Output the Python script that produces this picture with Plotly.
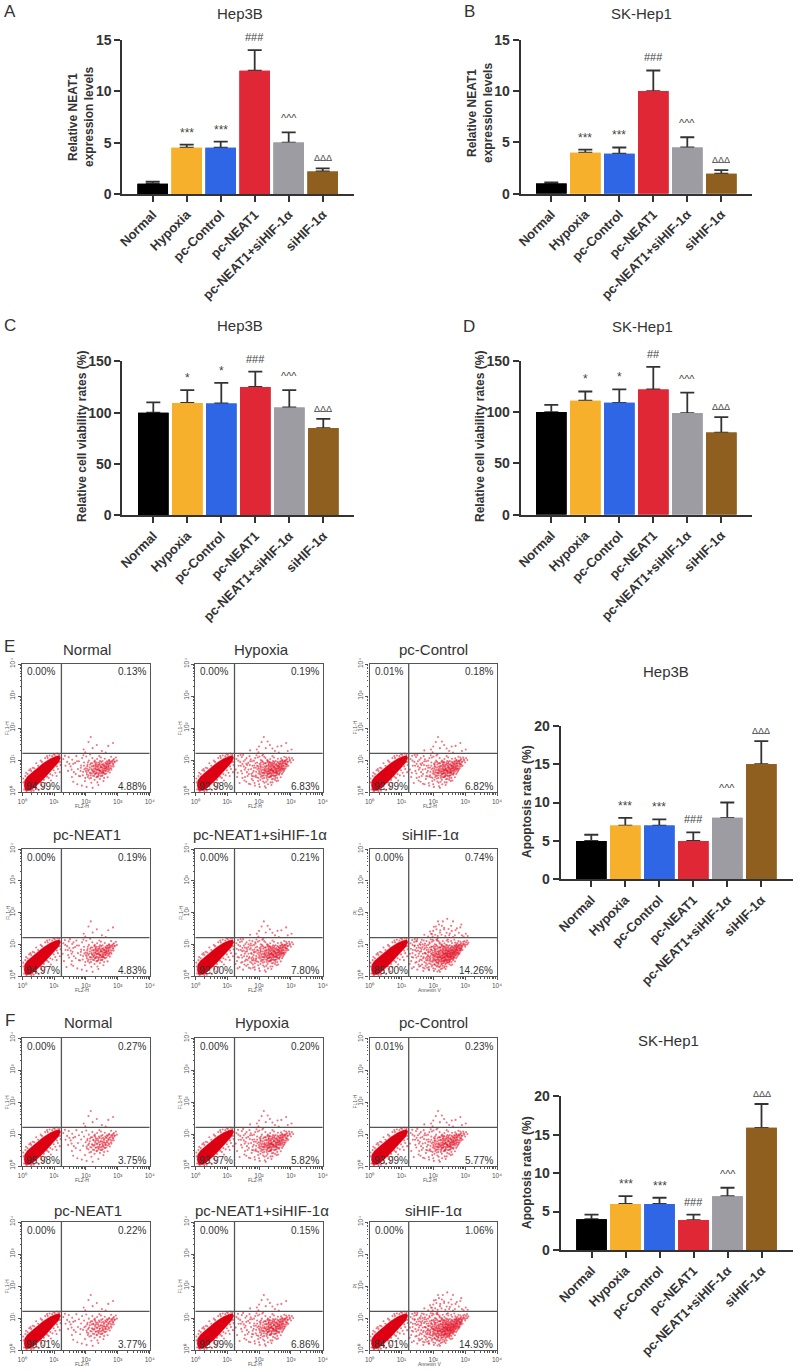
import plotly.graph_objects as go
import numpy as np

W, H = 800, 1371
FONT = "Liberation Sans"
INK = "#333333"

CATEGORIES = ["Normal", "Hypoxia", "pc-Control", "pc-NEAT1", "pc-NEAT1+siHIF-1α", "siHIF-1α"]
BAR_COLORS = ["#000000", "#F7B02C", "#2F66E5", "#E02735", "#9D9CA2", "#8F5F1F"]

A_MEAN = [1, 4.5, 4.5, 12, 5, 2.2]
A_TOP = [1.2, 4.8, 5.1, 14, 6, 2.5]
B_MEAN = [1, 4, 3.9, 10, 4.5, 1.95]
B_TOP = [1.1, 4.3, 4.5, 12, 5.5, 2.3]
C_MEAN = [100, 109.5, 109, 125, 105, 85]
C_TOP = [110, 122, 129, 140, 122, 94]
D_MEAN = [100, 111, 109, 122, 99, 80]
D_TOP = [107, 120, 122, 144, 119, 95]
E_MEAN = [5, 7, 7, 5, 8, 15]
E_TOP = [5.8, 8, 7.8, 6.1, 10, 18]
F_MEAN = [4, 6, 6, 3.9, 7, 15.9]
F_TOP = [4.6, 7, 6.8, 4.6, 8.1, 19]

MARKS_3 = ["", "***", "***", "###", "^^^", "ΔΔΔ"]
MARKS_C = ["", "*", "*", "###", "^^^", "ΔΔΔ"]
MARKS_D = ["", "*", "*", "##", "^^^", "ΔΔΔ"]

# Flow cytometry: quadrant percentages (UL, UR, LL, LR)
E_PCT = [("0.00%", "0.13%", "94.99%", "4.88%"), ("0.00%", "0.19%", "92.98%", "6.83%"),
         ("0.01%", "0.18%", "92.99%", "6.82%"), ("0.00%", "0.19%", "94.97%", "4.83%"),
         ("0.00%", "0.21%", "92.00%", "7.80%"), ("0.00%", "0.74%", "85.00%", "14.26%")]
F_PCT = [("0.00%", "0.27%", "95.98%", "3.75%"), ("0.00%", "0.20%", "93.97%", "5.82%"),
         ("0.01%", "0.23%", "93.99%", "5.77%"), ("0.00%", "0.22%", "96.01%", "3.77%"),
         ("0.00%", "0.15%", "92.99%", "6.86%"), ("0.00%", "1.06%", "84.01%", "14.93%")]

GATE_X = 1.23
GATE_Y = 1.21

# Dense live-cell population outline, read in log10 units
BLOB = [(0.1, 0.05), (0.06, 0.2), (0.08, 0.36), (0.16, 0.48), (0.3, 0.6), (0.46, 0.74), (0.66, 0.9),
        (0.88, 1.04), (1.06, 1.12), (1.17, 1.14), (1.2, 1.06), (1.14, 0.92), (1.0, 0.76), (0.86, 0.6),
        (0.7, 0.44), (0.54, 0.28), (0.38, 0.14), (0.24, 0.05)]
FUZZ = [(0.03, 0.42), (0.12, 0.6), (0.22, 0.68), (0.33, 0.76), (0.44, 0.9), (0.58, 0.98), (0.72, 1.06),
        (0.86, 1.14), (0.98, 1.19), (0.46, 0.1), (0.6, 0.22), (0.72, 0.28), (0.83, 0.44), (0.95, 0.52),
        (1.04, 0.6), (1.12, 0.72), (1.2, 0.84), (1.18, 0.62), (0.66, 0.14), (0.36, 0.04), (0.9, 0.36),
        (1.08, 0.5), (0.52, 0.06), (0.26, 0.72), (0.78, 1.12), (1.1, 1.2), (0.04, 0.3), (0.06, 0.08),
        (0.1, 0.5), (0.17, 0.56), (0.28, 0.66), (0.38, 0.74), (0.5, 0.82), (0.62, 0.94), (0.8, 1.06),
        (0.94, 1.12), (0.32, 0.08), (0.44, 0.18), (0.58, 0.3), (0.68, 0.38), (0.78, 0.48), (0.88, 0.56),
        (0.99, 0.68), (1.09, 0.8), (1.18, 0.94), (0.14, 0.02), (0.28, 0.03), (1.16, 1.18), (1.02, 1.16)]

# Scattered apoptotic events, read by eye in log10 units
CLOUD_A = [(2.15, 1.72), (2.08, 1.56), (2.34, 1.47), (2.7, 1.44), (2.85, 1.53), (1.93, 1.33), (2.21, 1.37),
           (1.98, 1.24), (2.5, 1.28), (2.62, 1.23), (1.29, 1.03), (1.34, 1.13), (1.41, 0.94), (1.46, 1.09),
           (1.52, 0.8), (1.57, 1.01), (1.62, 0.62), (1.66, 0.91), (1.7, 1.12), (1.75, 0.72), (1.78, 0.96),
           (1.82, 0.49), (1.85, 0.83), (1.88, 1.06), (1.91, 0.63), (1.94, 0.92), (1.97, 0.34), (1.99, 0.74),
           (2.01, 1.11), (2.03, 0.55), (2.05, 0.85), (2.07, 0.66), (2.09, 0.98), (2.11, 0.42), (2.12, 0.77),
           (2.14, 0.59), (2.16, 0.9), (2.17, 0.29), (2.19, 0.68), (2.2, 1.06), (2.22, 0.51), (2.23, 0.82),
           (2.25, 0.63), (2.26, 0.95), (2.27, 0.38), (2.29, 0.73), (2.3, 0.57), (2.31, 0.87), (2.33, 0.46),
           (2.34, 0.69), (2.35, 1.03), (2.37, 0.6), (2.38, 0.8), (2.39, 0.22), (2.4, 0.52), (2.41, 0.92),
           (2.43, 0.66), (2.44, 0.41), (2.45, 0.76), (2.46, 0.58), (2.47, 1.08), (2.49, 0.86), (2.5, 0.5),
           (2.51, 0.7), (2.52, 0.97), (2.54, 0.62), (2.55, 0.34), (2.56, 0.81), (2.58, 0.73), (2.59, 1.04),
           (2.6, 0.56), (2.62, 0.89), (2.63, 0.66), (2.65, 0.78), (2.66, 0.96), (2.68, 0.46), (2.7, 0.84),
           (2.71, 0.71), (2.73, 1.0), (2.75, 0.61), (2.77, 0.9), (2.79, 1.1), (2.81, 0.8), (2.83, 0.97),
           (2.86, 0.88), (2.88, 1.03), (2.91, 0.95), (2.94, 1.08), (2.97, 0.98), (1.44, 0.66), (1.6, 0.32),
           (1.73, 0.24), (1.87, 0.2), (2.02, 0.16), (2.21, 0.13), (1.36, 0.82), (1.56, 0.47), (2.28, 0.98),
           (2.42, 1.12), (2.57, 0.44), (2.36, 0.3), (2.18, 0.8), (2.06, 0.47), (1.95, 0.71), (1.83, 0.66),
           (1.92, 1.15), (2.13, 1.17), (2.32, 0.62), (2.48, 0.64), (2.61, 0.75), (2.67, 0.88), (2.74, 0.74),
           (2.53, 0.84), (2.44, 0.97), (2.24, 0.72), (2.15, 0.52), (2.04, 0.72), (2.38, 0.48), (2.52, 0.6),
           (2.29, 0.84), (2.41, 0.68), (2.35, 0.78), (2.46, 0.82), (2.56, 0.68), (2.64, 0.83), (2.72, 0.9)]

CLOUD_B = [(1.27, 0.7), (1.31, 0.47), (1.35, 0.98), (1.39, 0.28), (1.43, 0.82), (1.47, 0.58), (1.5, 1.16),
           (1.54, 0.36), (1.58, 0.76), (1.61, 1.06), (1.64, 0.5), (1.68, 0.26), (1.71, 0.84), (1.74, 1.02),
           (1.77, 0.41), (1.8, 0.6), (1.84, 0.98), (1.86, 0.28), (1.9, 0.76), (1.93, 0.46), (1.96, 1.08),
           (2.0, 0.24), (2.02, 0.88), (2.04, 0.38), (2.08, 0.6), (2.1, 1.14), (2.13, 0.33), (2.15, 0.68),
           (2.18, 0.18), (2.21, 0.9), (2.24, 0.44), (2.26, 0.56), (2.28, 0.24), (2.31, 0.66), (2.33, 0.94),
           (2.36, 0.5), (2.39, 0.72), (2.42, 0.3), (2.45, 0.62), (2.47, 0.9), (2.5, 0.38), (2.53, 0.72),
           (2.55, 0.52), (2.58, 0.94), (2.6, 0.36), (2.63, 0.54), (2.66, 0.68), (2.69, 1.05), (2.72, 0.56),
           (2.75, 0.82), (2.78, 0.66), (2.8, 0.98), (2.83, 0.74), (2.85, 1.08), (2.88, 0.86), (2.92, 0.82),
           (2.96, 1.02), (3.0, 0.92), (3.03, 1.06), (3.07, 1.0), (1.72, 1.3), (2.0, 1.42), (2.27, 1.58),
           (2.42, 1.36), (2.58, 1.42), (2.9, 1.28), (3.02, 1.33), (1.52, 0.96), (1.67, 0.7), (1.79, 0.82),
           (1.88, 0.48), (1.98, 0.58), (2.06, 0.78), (2.11, 0.5), (2.17, 0.62), (2.23, 0.32), (2.3, 0.46),
           (2.34, 0.58), (2.37, 0.66), (2.4, 0.4), (2.44, 0.52), (2.48, 0.72), (2.51, 0.44), (2.57, 0.62),
           (2.61, 0.82), (2.65, 0.6), (2.7, 0.74), (2.76, 0.72), (2.82, 0.88), (2.12, 0.94), (2.2, 0.76),
           (1.33, 0.6), (1.42, 1.16), (1.48, 0.44), (1.63, 0.84), (1.76, 0.56), (1.81, 0.36), (1.89, 0.9),
           (1.97, 0.8), (2.05, 1.0), (2.16, 1.1), (2.25, 1.0), (2.37, 0.9), (2.43, 0.8), (2.54, 1.02)]

CLOUD_C = [(1.26, 0.38), (1.3, 0.86), (1.33, 0.24), (1.37, 0.58), (1.4, 1.07), (1.44, 0.42), (1.47, 0.78),
           (1.5, 0.2), (1.53, 0.62), (1.55, 0.9), (1.59, 0.52), (1.62, 0.78), (1.65, 0.36), (1.67, 1.0),
           (1.7, 0.6), (1.72, 0.44), (1.74, 0.88), (1.77, 0.7), (1.79, 1.1), (1.81, 0.26), (1.83, 0.54),
           (1.85, 0.74), (1.87, 0.4), (1.89, 1.02), (1.91, 0.56), (1.93, 0.84), (1.95, 0.3), (1.97, 0.66),
           (1.99, 0.48), (2.01, 0.94), (2.03, 0.36), (2.05, 0.62), (2.06, 0.22), (2.08, 0.84), (2.1, 0.44),
           (2.12, 0.66), (2.13, 0.14), (2.15, 0.4), (2.16, 0.76), (2.18, 0.5), (2.2, 0.28), (2.21, 0.6),
           (2.23, 0.9), (2.25, 0.38), (2.27, 0.54), (2.28, 0.78), (2.3, 0.32), (2.32, 0.5), (2.33, 0.72),
           (2.35, 0.42), (2.36, 0.6), (2.38, 0.36), (2.4, 0.8), (2.41, 0.5), (2.43, 0.62), (2.45, 0.44),
           (2.46, 0.7), (2.48, 0.54), (2.5, 0.8), (2.52, 0.48), (2.54, 0.7), (2.56, 0.9), (2.59, 0.62),
           (2.62, 0.5), (2.64, 0.72), (2.67, 0.58), (2.69, 0.82), (2.71, 0.94), (2.74, 0.82), (2.77, 0.76),
           (2.8, 0.86), (2.84, 0.8), (2.87, 0.96), (2.9, 0.9), (2.93, 1.0), (2.98, 1.1), (3.02, 0.98),
           (3.06, 1.12), (3.1, 1.05), (1.84, 1.24), (1.9, 1.4), (1.96, 1.32), (2.02, 1.55), (2.06, 1.3),
           (2.1, 1.47), (2.14, 1.26), (2.18, 1.62), (2.22, 1.44), (2.26, 1.3), (2.3, 1.72), (2.34, 1.52),
           (2.38, 1.26), (2.44, 1.8), (2.48, 1.48), (2.52, 1.34), (2.56, 1.58), (2.62, 1.72), (2.68, 1.28),
           (2.74, 1.5), (2.8, 1.36), (2.88, 1.62), (2.95, 1.24), (3.08, 1.26), (1.35, 0.72), (1.42, 0.96),
           (1.49, 1.1), (1.56, 0.3), (1.6, 0.98), (1.64, 1.14), (1.69, 0.16), (1.73, 0.72), (1.76, 0.32),
           (1.8, 0.9), (1.84, 0.62), (1.86, 0.2), (1.88, 0.6), (1.92, 0.38), (1.94, 0.7), (1.96, 0.92),
           (2.0, 0.52), (2.02, 0.66), (2.04, 0.5), (2.07, 0.34), (2.09, 0.72), (2.11, 0.3), (2.14, 0.56),
           (2.17, 0.38), (2.19, 0.46), (2.22, 0.58), (2.24, 0.22), (2.26, 0.46), (2.29, 0.64), (2.31, 0.4),
           (2.34, 0.26), (2.37, 0.54), (2.39, 0.64), (2.42, 0.46), (2.44, 0.72), (2.47, 0.6), (2.49, 0.44),
           (2.51, 0.66), (2.53, 0.56), (2.55, 0.78), (2.58, 0.54), (2.6, 0.7), (2.63, 0.62), (2.66, 0.76),
           (2.7, 0.66), (2.73, 0.86), (2.78, 0.92), (2.82, 0.7), (2.86, 0.84), (2.4, 0.98), (2.3, 1.1),
           (2.2, 1.02), (2.12, 1.12), (2.56, 1.1), (2.66, 1.14), (2.76, 1.04), (1.98, 1.14), (2.46, 1.15)]

CLOUD_D = [(2.02, 0.61), (2.04, 0.8), (2.08, 0.52), (2.1, 0.7), (2.13, 0.86), (2.16, 0.44), (2.18, 0.58),
           (2.2, 0.9), (2.21, 0.66), (2.24, 0.8), (2.26, 0.5), (2.27, 0.66), (2.29, 0.92), (2.3, 0.78),
           (2.32, 0.58), (2.33, 0.82), (2.35, 0.48), (2.36, 0.7), (2.37, 0.86), (2.39, 0.56), (2.4, 0.74),
           (2.42, 0.6), (2.43, 0.88), (2.44, 0.68), (2.46, 0.5), (2.47, 0.78), (2.48, 0.94), (2.5, 0.6),
           (2.51, 0.76), (2.52, 0.52), (2.53, 0.66), (2.54, 0.88), (2.56, 0.74), (2.57, 0.58), (2.58, 0.84),
           (2.6, 0.66), (2.61, 0.92), (2.62, 0.72), (2.64, 0.58), (2.65, 0.88), (2.66, 0.74), (2.68, 0.94),
           (2.69, 0.64), (2.7, 0.8), (2.72, 0.98), (2.73, 0.68), (2.74, 0.88), (2.76, 0.82), (2.78, 0.74),
           (2.79, 0.96), (2.8, 0.7), (2.82, 0.92), (2.84, 0.86), (2.85, 1.0), (2.87, 0.8), (2.89, 0.94),
           (1.48, 0.88), (1.55, 0.7), (1.6, 0.88), (1.68, 0.56), (1.72, 0.96), (1.78, 0.5), (1.84, 0.76),
           (1.9, 0.52), (1.94, 0.82), (1.98, 0.44), (2.0, 0.66), (2.06, 0.92), (2.12, 0.6), (2.17, 0.72),
           (2.23, 0.6), (2.28, 0.56), (2.31, 0.72), (2.34, 0.92), (2.38, 0.7), (2.41, 0.84), (2.45, 0.66),
           (2.49, 0.78), (2.55, 0.6), (2.59, 0.8), (2.63, 0.78), (2.67, 0.7), (2.71, 0.78), (2.75, 0.94)]

# Which hand-read events appear in which flow panel (A, B, C, D counts)
E_CLOUDS = [(130, 0, 0, 84), (130, 104, 0, 84), (130, 95, 0, 84), (130, 10, 0, 84), (130, 104, 25, 84), (130, 104, 174, 84)]
F_CLOUDS = [(100, 0, 0, 60), (130, 80, 0, 84), (130, 75, 0, 84), (105, 0, 0, 60), (130, 65, 0, 84), (130, 104, 174, 84)]

# Pixel placement of each chart panel
BAR_PANELS = [
    dict(mean=A_MEAN, top=A_TOP, marks=MARKS_3, ymax=15, dtick=5, ax=122.3, end=353.5, c0=152.7, ytop=39.8, ybot=194,
         ylabel="Relative NEAT1<br>expression levels", lx=81, ly=117, title="Hep3B", tx=240, ty=13),
    dict(mean=B_MEAN, top=B_TOP, marks=MARKS_3, ymax=15, dtick=5, ax=520.7, end=752.3, c0=551.3, ytop=39.7, ybot=193.7,
         ylabel="Relative NEAT1<br>expression levels", lx=480, ly=113, title="SK-Hep1", tx=641, ty=13),
    dict(mean=C_MEAN, top=C_TOP, marks=MARKS_C, ymax=150, dtick=50, ax=122.3, end=354, c0=153.3, ytop=361.3, ybot=515.3,
         ylabel="Relative cell viability rates (%)", lx=82, ly=437, title="Hep3B", tx=240, ty=325),
    dict(mean=D_MEAN, top=D_TOP, marks=MARKS_D, ymax=150, dtick=50, ax=520.7, end=752, c0=551.3, ytop=360.7, ybot=514.7,
         ylabel="Relative cell viability rates (%)", lx=480, ly=437, title="SK-Hep1", tx=642, ty=326),
    dict(mean=E_MEAN, top=E_TOP, marks=MARKS_3, ymax=20, dtick=5, ax=560.7, end=792.7, c0=591.3, ytop=725.7, ybot=879.3,
         ylabel="Apoptosis rates (%)", lx=527, ly=802, title="Hep3B", tx=666, ty=672),
    dict(mean=F_MEAN, top=F_TOP, marks=MARKS_3, ymax=20, dtick=5, ax=560.7, end=793, c0=591.5, ytop=1096.3, ybot=1250,
         ylabel="Apoptosis rates (%)", lx=527, ly=1173, title="SK-Hep1", tx=668, ty=1040),
]
SPACING = 34.0

FLOW_X = [(22.2, 149.7), (195.3, 322.8), (369.5, 497)]
FLOW_ROWS = [
    dict(y0=664, y1=792, ty=649, txs=[87, 261, 433], names=CATEGORIES[:3], pct=E_PCT[:3], clouds=E_CLOUDS[:3]),
    dict(y0=849, y1=976, ty=834, txs=[87, 260, 430], names=CATEGORIES[3:], pct=E_PCT[3:], clouds=E_CLOUDS[3:]),
    dict(y0=1038, y1=1166, ty=1023, txs=[88, 262, 433], names=CATEGORIES[:3], pct=F_PCT[:3], clouds=F_CLOUDS[:3]),
    dict(y0=1222, y1=1350, ty=1210, txs=[88, 262, 433], names=CATEGORIES[3:], pct=F_PCT[3:], clouds=F_CLOUDS[3:]),
]
LETTERS = [("A", 10, 12), ("B", 469, 12), ("C", 10, 325), ("D", 469, 326), ("E", 9, 646), ("F", 10, 1020)]

MARK_STYLE = {"*": (12, 12), "^": (11, 14), "#": (11, 13), "Δ": (9, 10)}

fig = go.Figure()
layout = dict(width=W, height=H, margin=dict(l=0, r=0, t=0, b=0, autoexpand=False), paper_bgcolor="white",
              plot_bgcolor="white", showlegend=False, font=dict(family=FONT, color=INK), barmode="overlay")
annotations = []
shapes = []


def px(x):
    return x / W


def py(y):
    return 1 - y / H


def text(s, x, y, size, color=INK, angle=0, xanchor="center", yanchor="middle"):
    annotations.append(dict(text=s, x=px(x), y=py(y), xref="paper", yref="paper", showarrow=False,
                            font=dict(size=size, color=color, family=FONT), textangle=angle,
                            xanchor=xanchor, yanchor=yanchor, align="center"))


n = 0
for p in BAR_PANELS:
    n += 1
    xa, ya = f"xaxis{n}", f"yaxis{n}"
    xr, yr = f"x{n}", f"y{n}"
    ups = [t - m for t, m in zip(p["top"], p["mean"])]
    # Error bars first, bars over them, so that only the upper whisker shows
    fig.add_trace(go.Bar(x=CATEGORIES, y=p["mean"], width=0.9, marker=dict(color=BAR_COLORS, line=dict(width=0)),
                         error_y=dict(type="data", symmetric=False, array=ups, arrayminus=[0] * 6,
                                      color=INK, thickness=1.8, width=7),
                         xaxis=xr, yaxis=yr))
    fig.add_trace(go.Bar(x=CATEGORIES, y=p["mean"], width=0.9, marker=dict(color=BAR_COLORS, line=dict(width=0)),
                         xaxis=xr, yaxis=yr))
    layout[xa] = dict(domain=[px(p["ax"]), px(p["end"])], anchor=yr, type="category", automargin=False,
                      categoryorder="array", categoryarray=CATEGORIES,
                      range=[-(p["c0"] - p["ax"]) / SPACING, (p["end"] - p["c0"]) / SPACING],
                      showline=True, linecolor=INK, linewidth=2, ticks="outside", ticklen=6, tickwidth=2,
                      tickcolor=INK, tickangle=-45, showgrid=False,
                      tickfont=dict(size=13, family=FONT, color=INK, weight="bold"))
    layout[ya] = dict(domain=[py(p["ybot"]), py(p["ytop"])], anchor=xr, range=[0, p["ymax"]], dtick=p["dtick"],
                      showline=True, linecolor=INK, linewidth=2, ticks="outside", ticklen=6, tickwidth=2,
                      tickcolor=INK, showgrid=False, zeroline=False, automargin=False,
                      tickfont=dict(size=14, family=FONT, color=INK, weight="bold"))
    text(f"<b>{p['ylabel']}</b>", p["lx"], p["ly"], 12, angle=-90)
    text(p["title"], p["tx"], p["ty"], 15)
    for cat, top, mark in zip(CATEGORIES, p["top"], p["marks"]):
        if mark:
            size, shift = MARK_STYLE[mark[0]]
            annotations.append(dict(text=mark, x=cat, y=top, xref=xr, yref=yr, showarrow=False, yshift=shift,
                                    yanchor="middle", font=dict(size=size, color="#444444", family=FONT)))

MINOR = [float(k + np.log10(m)) for k in range(4) for m in range(2, 10)]
POWERS = ["10⁰", "10¹", "10²", "10³", "10⁴"]
GREY = "#555555"
for row in FLOW_ROWS:
    for col, ((x0, x1), tx) in enumerate(zip(FLOW_X, row["txs"])):
        n += 1
        xa, ya = f"xaxis{n}", f"yaxis{n}"
        xr, yr = f"x{n}", f"y{n}"
        na, nb, nc, nd = row["clouds"][col]
        events = FUZZ + CLOUD_A[:na] + CLOUD_B[:nb] + CLOUD_C[:nc] + CLOUD_D[:nd]
        fig.add_trace(go.Scatter(x=[e[0] for e in events], y=[e[1] for e in events], mode="markers",
                                 marker=dict(size=2.1, color="rgba(226,24,44,0.6)", line=dict(width=0)),
                                 xaxis=xr, yaxis=yr))
        fig.add_trace(go.Scatter(x=[b[0] for b in BLOB] + [BLOB[0][0]], y=[b[1] for b in BLOB] + [BLOB[0][1]],
                                 mode="lines", fill="toself", fillcolor="#DC0012", line=dict(width=0.5, color="#DC0012"),
                                 xaxis=xr, yaxis=yr))
        for ax_name, dom, anchor, angle in ((xa, [px(x0), px(x1)], yr, 0), (ya, [py(row["y1"]), py(row["y0"])], xr, -90)):
            layout[ax_name] = dict(domain=dom, anchor=anchor, range=[0, 4], showline=True, mirror=True, linecolor=GREY,
                                   linewidth=1.3, ticks="outside", ticklen=3, tickwidth=0.8, tickcolor=GREY,
                                   tickmode="array", tickvals=[0, 1, 2, 3, 4], ticktext=POWERS, tickangle=angle,
                                   tickfont=dict(size=6.5, family=FONT, color=GREY), showgrid=False, zeroline=False,
                                   automargin=False,
                                   minor=dict(tickmode="array", tickvals=MINOR, ticks="outside", ticklen=1.5,
                                              tickwidth=0.5, tickcolor=GREY))
        shapes.append(dict(type="line", xref=xr, yref=yr, x0=GATE_X, x1=GATE_X, y0=0, y1=4,
                           line=dict(color=GREY, width=1.3)))
        shapes.append(dict(type="line", xref=xr, yref=yr, x0=0, x1=4, y0=GATE_Y, y1=GATE_Y,
                           line=dict(color=GREY, width=1.3)))
        text(row["names"][col], tx, row["ty"], 15)
        ul, ur, ll, lr = row["pct"][col]
        y0, y1 = row["y0"], row["y1"]
        text(ul, x0 + 3, y0 + 8, 10, xanchor="left")
        text(ur, x1 - 2, y0 + 8, 10, xanchor="right")
        text(ll, x0 + 2, y1 - 6, 10, xanchor="left")
        text(lr, x1 - 2, y1 - 6, 10, xanchor="right")
        is_last = col == 2 and row["names"][col] == "siHIF-1α"
        text("PI" if is_last else "FL1-H", x0 - 15, (y0 + y1) / 2, 5, color=GREY, angle=-90)
        text("Annexin V" if is_last else "FL2-H", x0 + 60, y1 + 14, 5, color=GREY)

for s, x, y in LETTERS:
    text(s, x, y, 17)

layout["annotations"] = annotations
layout["shapes"] = shapes
fig.update_layout(**layout)
fig.write_html("out.html", config={"displayModeBar": False},
               post_script="document.body.style.margin='0';")
